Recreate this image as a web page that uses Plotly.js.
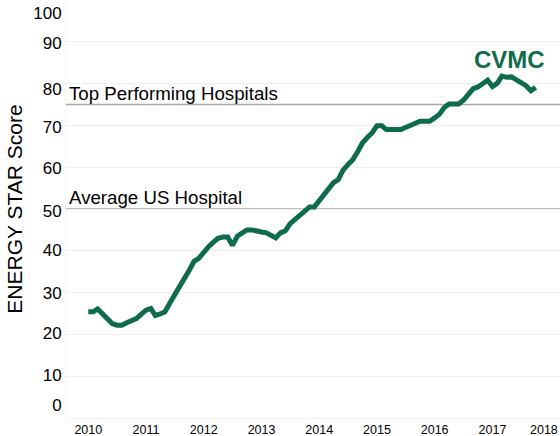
<!DOCTYPE html>
<html>
<head>
<meta charset="utf-8">
<script src="https://cdn.plot.ly/plotly-3.0.1.min.js"></script>
<style>html,body{margin:0;padding:0;background:#fff;}#chart{width:560px;height:436px;}</style>
</head>
<body>
<div id="chart"></div>
<script>
// Monthly ENERGY STAR score for CVMC, Jan 2010 – Oct 2017
const months = [
  '2010-01','2010-02','2010-03','2010-04','2010-05','2010-06','2010-07','2010-08','2010-09','2010-10','2010-11','2010-12',
  '2011-01','2011-02','2011-03','2011-04','2011-05','2011-06','2011-07','2011-08','2011-09','2011-10','2011-11','2011-12',
  '2012-01','2012-02','2012-03','2012-04','2012-05','2012-06','2012-07','2012-08','2012-09','2012-10','2012-11','2012-12',
  '2013-01','2013-02','2013-03','2013-04','2013-05','2013-06','2013-07','2013-08','2013-09','2013-10','2013-11','2013-12',
  '2014-01','2014-02','2014-03','2014-04','2014-05','2014-06','2014-07','2014-08','2014-09','2014-10','2014-11','2014-12',
  '2015-01','2015-02','2015-03','2015-04','2015-05','2015-06','2015-07','2015-08','2015-09','2015-10','2015-11','2015-12',
  '2016-01','2016-02','2016-03','2016-04','2016-05','2016-06','2016-07','2016-08','2016-09','2016-10','2016-11','2016-12',
  '2017-01','2017-02','2017-03','2017-04','2017-05','2017-06','2017-07','2017-08','2017-09','2017-10'
];
const cvmcScore = [
  25.4, 25.4, 26.1, 24.8, 23.6, 22.6, 22.2, 22.2, 22.8, 23.3, 23.8, 24.8,
  25.8, 26.2, 24.5, 24.9, 25.4, 27.5, 29.6, 31.5, 33.4, 35.3, 37.5, 38.2,
  39.8, 41.0, 42.0, 43.0, 43.3, 43.3, 41.3, 43.5, 44.3, 45.0, 45.0, 44.6,
  44.5, 44.3, 43.6, 43.1, 44.3, 44.8, 46.5, 47.6, 48.5, 49.7, 50.5, 50.5,
  52.0, 53.6, 55.2, 56.3, 57.0, 59.3, 60.6, 61.8, 63.7, 65.8, 67.1, 68.2,
  69.9, 69.9, 69.0, 69.0, 69.0, 69.0, 69.5, 70.0, 70.5, 71.0, 71.0, 71.0,
  71.8, 72.7, 74.2, 75.1, 75.1, 75.1, 76.0, 77.5, 78.8, 79.2, 79.9, 80.8,
  79.3, 80.1, 81.8, 81.5, 81.6, 81.0, 80.3, 79.5, 78.3, 79.1
];
const benchmarkValues = [75, 50];
const benchmarkLabels = ['Top Performing Hospitals', 'Average US Hospital'];
const seriesLabel = 'CVMC';
const yTickLabels = ['0','10','20','30','40','50','60','70','80','90','100'];
const yTickPos    = [3.1, 10.2, 20.3, 29.8, 40.1, 49.6, 59.9, 69.7, 78.8, 89.7, 96.9];
const yGridVals   = [0,10,20,30,40,50,60,70,80,90,100];
const xTickVals   = ['2010-01-01','2011-01-01','2012-01-01','2013-01-01','2014-01-01','2015-01-01','2016-01-01','2017-01-01','2017-11-22'];
const xTickLabels = ['2010','2011','2012','2013','2014','2015','2016','2017','2018'];

const green = '#0e6b4b';
const FONT = 'Liberation Sans, Arial, Helvetica, sans-serif';

const trace = {
  x: months.map(m => m + '-01'),
  y: cvmcScore,
  type: 'scatter',
  mode: 'lines',
  line: {color: green, width: 5, shape: 'linear'},
  hoverinfo: 'skip',
  showlegend: false
};

const shapes = benchmarkValues.map(v => ({
  type: 'line', xref: 'paper', x0: 0, x1: 1, yref: 'y', y0: v, y1: v,
  line: {color: '#a8a8a8', width: 1.5}, layer: 'below'
}));

const annotations = benchmarkValues.map((v, i) => ({
  xref: 'paper', x: 0.002, xanchor: 'left',
  yref: 'y', y: v, yanchor: 'bottom', yshift: -1,
  text: benchmarkLabels[i], showarrow: false,
  font: {family: FONT, size: 18.7, color: '#000'}
}));
annotations.push({
  xref: 'x', x: '2017-04-20', xanchor: 'center',
  yref: 'y', y: 85.8, yanchor: 'middle',
  text: '<b>' + seriesLabel + '</b>', showarrow: false,
  font: {family: FONT, size: 24, color: green}
});

const layout = {
  width: 560, height: 436,
  margin: {l: 66, r: 0, t: 0, b: 18, pad: 0},
  paper_bgcolor: '#fff', plot_bgcolor: '#fff',
  font: {family: FONT, color: '#000'},
  showlegend: false,
  xaxis: {
    type: 'date',
    range: ['2009-08-13', '2018-03-04'],
    tickvals: xTickVals, ticktext: xTickLabels,
    ticklabeloverflow: 'allow',
    showgrid: false, zeroline: false,
    showline: true, linecolor: '#f2f2f2', linewidth: 1,
    ticks: '', tickfont: {family: FONT, size: 12.5, color: '#000'}
  },
  yaxis: {
    range: [0, 100],
    tickvals: yTickPos, ticktext: yTickLabels,
    showgrid: false, zeroline: false,
    showline: true, linecolor: '#f2f2f2', linewidth: 1,
    ticks: '', tickfont: {family: FONT, size: 17, color: '#000'},
    minor: {tickvals: yGridVals, showgrid: true, gridcolor: '#efefef', gridwidth: 1, ticks: ''},
    title: {text: 'ENERGY STAR Score', font: {family: FONT, size: 21, color: '#000'}, standoff: 4}
  },
  shapes: shapes,
  annotations: annotations
};

Plotly.newPlot('chart', [trace], layout, {displayModeBar: false, staticPlot: true});
</script>
</body>
</html>
